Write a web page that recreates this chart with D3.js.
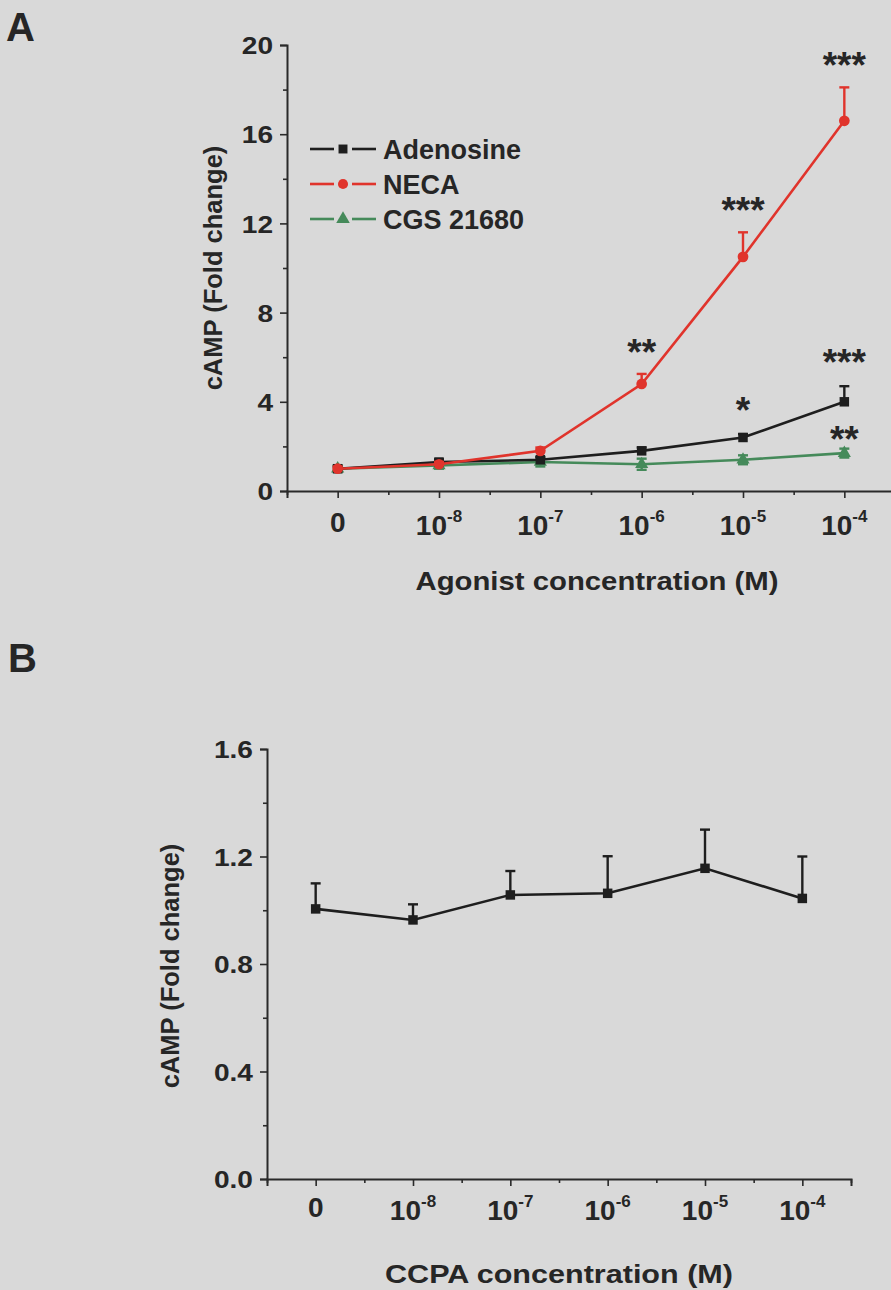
<!DOCTYPE html>
<html><head><meta charset="utf-8">
<script src="https://cdn.jsdelivr.net/npm/d3@7"></script>
<style>
html,body{margin:0;padding:0;background:#d9d9d9;}
svg{display:block;}
text{font-family:"Liberation Sans",Arial,sans-serif;font-weight:bold;fill:#262626;}
</style></head><body>
<svg id="c" width="891" height="1290"></svg>
<script>
// ---- data ----
const categories = ["0","-8","-7","-6","-5","-4"]; // exponents of 10 (first = 0 M)
const adenosine = [1.0, 1.3, 1.4, 1.8, 2.4, 4.0];
const adenosineErr = [0.1, 0.12, 0.12, 0.15, 0.15, 0.7];
const neca = [1.0, 1.2, 1.8, 4.8, 10.5, 16.6];
const necaErr = [0.1, 0.1, 0.15, 0.45, 1.1, 1.5];
const cgs = [1.0, 1.15, 1.3, 1.2, 1.4, 1.7];
const cgsErr = [0.15, 0.15, 0.2, 0.25, 0.2, 0.2];
const sigAdenosine = ["", "", "", "", "*", "***"];
const sigNeca = ["", "", "", "**", "***", "***"];
const sigCgs = ["", "", "", "", "", "**"];
const ccpa = [1.005, 0.964, 1.057, 1.063, 1.156, 1.044];
const ccpaErr = [0.095, 0.058, 0.089, 0.138, 0.144, 0.156];
const yTicksA = [0, 4, 8, 12, 16, 20];
const yTicksB = [0.0, 0.4, 0.8, 1.2, 1.6];

const svg = d3.select("#c");
const axisColor = "#2a2a2a";

function stretch(sel, k){
  sel.each(function(){
    const L = this.getComputedTextLength();
    d3.select(this).attr("textLength", L*k).attr("lengthAdjust","spacingAndGlyphs");
  });
}

function panel(opt){
  const g = svg.append("g");
  const x = d3.scaleLinear().domain([-0.5, 5.5]).range([opt.x0, opt.x1]);
  const y = d3.scaleLinear().domain(opt.yDomain).range([opt.y0, opt.y1]);
  // y axis
  const yAx = d3.axisLeft(y).tickValues(opt.yTicks).tickSize(7).tickFormat(opt.yFmt);
  const ya = g.append("g").attr("transform", `translate(${opt.x0},0)`).call(yAx);
  ya.select(".domain").attr("stroke", axisColor).attr("stroke-width", 2);
  ya.selectAll(".tick line").attr("stroke", axisColor).attr("stroke-width", 1.6);
  const yt = ya.selectAll(".tick text").attr("font-size", 24).attr("fill", "#262626").attr("x", -14)
    .attr("dy", "0.36em")
    .style("font-family", "'Liberation Sans',Arial,sans-serif").style("font-weight","bold");
  stretch(yt, 1.17);
  const yMinor = g.append("g").attr("transform", `translate(${opt.x0},0)`)
    .call(d3.axisLeft(y).tickValues(opt.yMinor).tickSize(4).tickFormat(""));
  yMinor.select(".domain").remove();
  yMinor.selectAll(".tick line").attr("stroke", axisColor).attr("stroke-width", 1.6);
  // x axis
  const xAx = d3.axisBottom(x).tickValues(d3.range(6)).tickSize(7).tickFormat("");
  const xa = g.append("g").attr("transform", `translate(0,${opt.y0})`).call(xAx);
  xa.select(".domain").attr("stroke", axisColor).attr("stroke-width", 2);
  xa.selectAll(".tick line").attr("stroke", axisColor).attr("stroke-width", 1.6);
  const xMinor = g.append("g").attr("transform", `translate(0,${opt.y0})`)
    .call(d3.axisBottom(x).tickValues(d3.range(-0.5, 5.6, 1)).tickSize(4).tickFormat(""));
  xMinor.select(".domain").remove();
  xMinor.selectAll(".tick line").attr("stroke", axisColor).attr("stroke-width", 1.6);
  // x tick labels
  categories.forEach((c, i) => {
    const t = g.append("text").attr("x", x(i)).attr("y", opt.y0 + opt.xLabDy)
      .attr("text-anchor", "middle").attr("font-size", 28)
      .style("font-family", "'Liberation Sans Narrow','Liberation Sans',Arial,sans-serif");
    if (c === "0") { t.attr("y", opt.y0 + opt.xLabDy - 3).text("0"); }
    else {
      t.append("tspan").text("10");
      t.append("tspan").attr("dy", -13).attr("font-size", 17).text(c);
    }
  });
  // axis titles
  const xt = g.append("text").attr("x", opt.xTitleX).attr("y", opt.xTitleY).attr("text-anchor","middle")
    .attr("font-size", 26).text(opt.xTitle);
  xt.attr("textLength", opt.xTitleW).attr("lengthAdjust","spacingAndGlyphs");
  g.append("text").attr("transform", `translate(${opt.yTitleX},${opt.yTitleY}) rotate(-90)`)
    .attr("text-anchor","middle").attr("font-size", 25.5).text("cAMP (Fold change)");
  return {g, x, y};
}

function series(p, vals, errs, color, shape, both){
  const {g, x, y} = p;
  const line = d3.line().x((d,i)=>x(i)).y(d=>y(d));
  vals.forEach((v,i)=>{
    const top = y(v+errs[i]), bot = both ? y(v-errs[i]) : y(v);
    g.append("line").attr("x1",x(i)).attr("x2",x(i)).attr("y1",top).attr("y2",bot)
      .attr("stroke",color).attr("stroke-width",2.4);
    g.append("line").attr("x1",x(i)-5).attr("x2",x(i)+5).attr("y1",top).attr("y2",top)
      .attr("stroke",color).attr("stroke-width",2.4);
    if (both) g.append("line").attr("x1",x(i)-5).attr("x2",x(i)+5).attr("y1",bot).attr("y2",bot)
      .attr("stroke",color).attr("stroke-width",2.4);
  });
  g.append("path").datum(vals).attr("d", line).attr("fill","none").attr("stroke",color).attr("stroke-width",2.6);
  const sym = d3.symbol().type(shape).size(shape===d3.symbolTriangle?75:90);
  g.selectAll(null).data(vals).enter().append("path")
    .attr("d", sym).attr("transform",(d,i)=>`translate(${x(i)},${y(d)})`).attr("fill",color);
}

// ---- Panel A ----
const red = "#e0342c", black = "#1e1e1e", green = "#458a5a";
const A = panel({x0:287, x1:895, y0:491, y1:45, yDomain:[0,20], yTicks:yTicksA,
  yMinor:[2,6,10,14,18], yFmt:d3.format("d"), xLabDy:44,
  xTitle:"Agonist concentration (M)", xTitleX:597, xTitleY:590, xTitleW:363,
  yTitleX:222, yTitleY:268});
series(A, cgs, cgsErr, green, d3.symbolTriangle, true);
series(A, adenosine, adenosineErr, black, d3.symbolSquare, false);
series(A, neca, necaErr, red, d3.symbolCircle, false);

// significance marks
function sig(p, vals, errs, marks, dy){
  marks.forEach((m,i)=>{ if(!m) return;
    p.g.append("text").attr("x", p.x(i)).attr("y", p.y(vals[i]+errs[i]) - dy)
      .attr("text-anchor","middle").attr("font-size", 37).attr("fill","#262626").text(m);
  });
}
sig(A, neca, necaErr, sigNeca, 9);
sig(A, adenosine, adenosineErr, sigAdenosine, 11);
sig(A, cgs, cgsErr, sigCgs, -3);

// legend
const legendItems = [["Adenosine", black, d3.symbolSquare], ["NECA", red, d3.symbolCircle], ["CGS 21680", green, d3.symbolTriangle]];
legendItems.forEach((d,i)=>{
  const ly = 149 + i*35;
  const lg = svg.append("g");
  lg.append("line").attr("x1",310).attr("x2",334).attr("y1",ly).attr("y2",ly).attr("stroke",d[1]).attr("stroke-width",2.6);
  lg.append("line").attr("x1",352).attr("x2",376).attr("y1",ly).attr("y2",ly).attr("stroke",d[1]).attr("stroke-width",2.6);
  lg.append("path").attr("d", d3.symbol().type(d[2]).size(80)).attr("transform",`translate(343,${ly})`).attr("fill",d[1]);
  lg.append("text").attr("x",383).attr("y",ly+10).attr("font-size",27).text(d[0]);
});

// ---- Panel B ----
const B = panel({x0:267, x1:851, y0:1179, y1:749, yDomain:[0,1.6], yTicks:yTicksB,
  yMinor:[0.2,0.6,1.0,1.4], yFmt:d3.format(".1f"), xLabDy:41,
  xTitle:"CCPA concentration (M)", xTitleX:559, xTitleY:1283, xTitleW:348,
  yTitleX:179, yTitleY:966});
series(B, ccpa, ccpaErr, black, d3.symbolSquare, false);

// panel letters
svg.append("text").attr("x",6).attr("y",41).attr("font-size",40).text("A");
svg.append("text").attr("x",8).attr("y",672).attr("font-size",40).text("B");
</script>
</body></html>
